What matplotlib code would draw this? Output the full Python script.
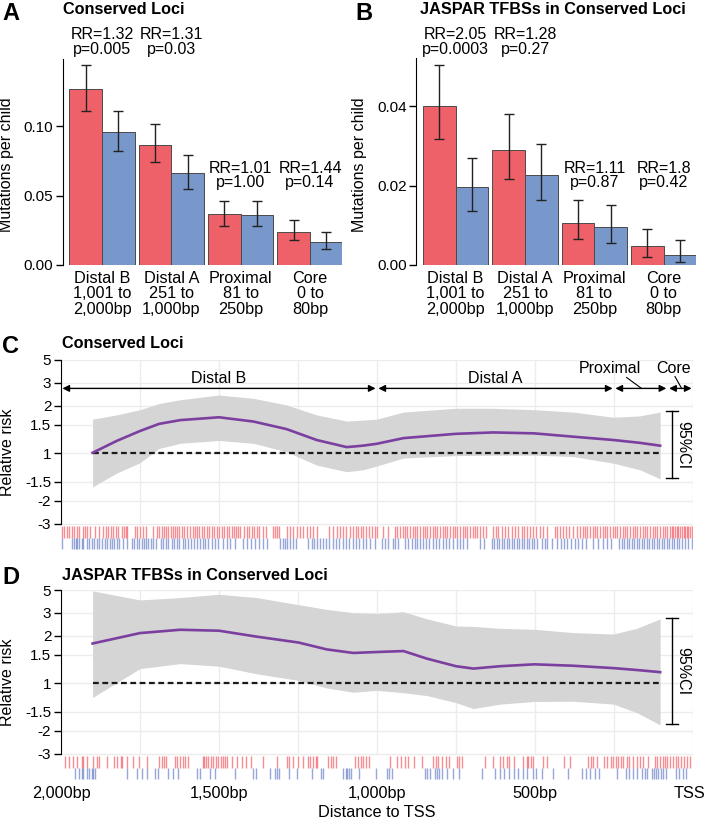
import matplotlib
matplotlib.use("Agg")
import matplotlib.pyplot as plt

plt.rcParams['font.family'] = ['Liberation Sans', 'DejaVu Sans']

# ---- panels A / B : mutations per child ----
categories = ['Distal B\n1,001 to\n2,000bp', 'Distal A\n251 to\n1,000bp',
              'Proximal\n81 to\n250bp', 'Core\n0 to\n80bp']

red_a = [0.1266, 0.0866, 0.0365, 0.0240]
red_a_lo = [0.1110, 0.0739, 0.0283, 0.0177]
red_a_hi = [0.1439, 0.1012, 0.0463, 0.0321]
blue_a = [0.0954, 0.0659, 0.0360, 0.0163]
blue_a_lo = [0.0823, 0.0549, 0.0278, 0.0113]
blue_a_hi = [0.1108, 0.0789, 0.0458, 0.0235]
rr_a = ['RR=1.32\np=0.005', 'RR=1.31\np=0.03', 'RR=1.01\np=1.00', 'RR=1.44\np=0.14']

red_b = [0.0401, 0.0290, 0.0105, 0.0047]
red_b_lo = [0.0316, 0.0217, 0.0065, 0.0021]
red_b_hi = [0.0503, 0.0379, 0.0163, 0.0090]
blue_b = [0.0195, 0.0227, 0.0095, 0.0025]
blue_b_lo = [0.0137, 0.0164, 0.0056, 0.0008]
blue_b_hi = [0.0270, 0.0305, 0.0150, 0.0062]
rr_b = ['RR=2.05\np=0.0003', 'RR=1.28\np=0.27', 'RR=1.11\np=0.87', 'RR=1.8\np=0.42']

# ---- panels C / D : relative risk along distance to TSS (log2 RR units) ----
rr_ticks = [1.97, 1.49, 1.0, 0.6, 0.0, -0.6, -1.0, -1.49]
rr_ticklabels = ['5', '3', '2', '1.5', '1', '-1.5', '-2', '-3']
dist_ticks = [2000, 1500, 1000, 500, 10]
dist_labels = ['2,000bp', '1,500bp', '1,000bp', '500bp', 'TSS']

c_bp = [1900, 1824, 1750, 1690, 1623, 1500, 1391, 1286, 1191, 1096, 1045, 1001, 916, 751, 632, 502, 379, 252, 168, 104]
c_rr = [0.01, 0.26, 0.47, 0.62, 0.70, 0.76, 0.67, 0.51, 0.28, 0.13, 0.16, 0.20, 0.32, 0.41, 0.44, 0.42, 0.35, 0.28, 0.22, 0.16]
c_hi = [0.72, 0.81, 0.92, 1.05, 1.13, 1.23, 1.16, 1.02, 0.81, 0.68, 0.70, 0.72, 0.87, 0.95, 0.95, 0.92, 0.87, 0.76, 0.79, 0.87]
c_lo = [-0.71, -0.42, -0.20, 0.10, 0.21, 0.27, 0.21, 0.03, -0.25, -0.39, -0.35, -0.27, -0.10, -0.05, -0.04, -0.04, -0.07, -0.21, -0.35, -0.54]

d_bp = [1900, 1750, 1623, 1500, 1381, 1248, 1159, 1075, 1001, 916, 842, 750, 695, 610, 502, 379, 252, 178, 104]
d_rr = [0.84, 1.06, 1.13, 1.11, 0.985, 0.86, 0.715, 0.64, 0.66, 0.68, 0.52, 0.36, 0.31, 0.36, 0.40, 0.37, 0.32, 0.28, 0.235]
d_hi = [1.95, 1.76, 1.81, 1.88, 1.81, 1.66, 1.56, 1.49, 1.47, 1.51, 1.36, 1.21, 1.20, 1.16, 1.14, 1.07, 1.04, 1.16, 1.36]
d_lo = [-0.30, 0.31, 0.415, 0.36, 0.20, 0.06, -0.10, -0.19, -0.15, -0.20, -0.26, -0.41, -0.535, -0.44, -0.385, -0.38, -0.44, -0.62, -0.88]

c_red_rug = [1998, 1990, 1982, 1974, 1966, 1959, 1950, 1942, 1931, 1924, 1919, 1908, 1892, 1879, 1866, 1858, 1850,
             1843, 1834, 1826, 1819, 1808, 1801, 1794, 1790, 1766, 1758, 1750, 1742, 1731, 1708, 1695, 1689, 1681,
             1674, 1668, 1660, 1653, 1647, 1639, 1632, 1626, 1618, 1611, 1602, 1592, 1583, 1576, 1569, 1562, 1555,
             1547, 1539, 1531, 1523, 1516, 1507, 1499, 1492, 1484, 1476, 1467, 1460, 1453, 1446, 1439, 1432, 1421,
             1412, 1404, 1397, 1389, 1381, 1372, 1360, 1351, 1328, 1323, 1315, 1309, 1286, 1275, 1265, 1254, 1244,
             1233, 1223, 1212, 1201, 1191, 1151, 1140, 1128, 1117, 1107, 1098, 1085, 1075, 1066, 1059, 1052, 1043,
             1035, 1024, 1017, 1006, 999, 980, 964, 943, 936, 927, 919, 911, 904, 896, 887, 880, 872, 864, 855, 848,
             841, 832, 824, 816, 809, 801, 792, 785, 777, 769, 761, 753, 746, 737, 729, 722, 714, 706, 697, 690, 683,
             674, 666, 655, 632, 623, 616, 605, 595, 584, 574, 563, 553, 542, 535, 526, 516, 507, 497, 484, 476, 463,
             437, 429, 421, 410, 402, 391, 379, 368, 358, 349, 342, 334, 326, 317, 310, 303, 294, 286, 278, 271, 263,
             254, 247, 239, 231, 223, 215, 208, 199, 191, 183, 176, 168, 159, 152, 144, 136, 128, 120, 113, 104, 96,
             89, 81, 73, 67, 62, 57, 52, 46, 41, 36, 30, 25, 20, 15, 10, 4]
c_blue_rug = [1998, 1966, 1959, 1953, 1948, 1942, 1935, 1929, 1919, 1910, 1903, 1896, 1887, 1879, 1871, 1861, 1853,
              1845, 1840, 1832, 1824, 1815, 1803, 1790, 1776, 1769, 1761, 1752, 1745, 1737, 1731, 1724, 1716, 1708,
              1699, 1685, 1676, 1668, 1660, 1650, 1642, 1634, 1626, 1615, 1608, 1597, 1590, 1579, 1569, 1560, 1552,
              1544, 1534, 1523, 1513, 1502, 1488, 1476, 1465, 1449, 1423, 1412, 1400, 1386, 1372, 1362, 1349, 1307,
              1299, 1291, 1284, 1275, 1267, 1256, 1217, 1207, 1199, 1191, 1180, 1172, 1161, 1151, 1140, 1130, 1119,
              1109, 1098, 1088, 1077, 1066, 1056, 1045, 1035, 1022, 1006, 985, 975, 964, 950, 943, 932, 911, 901, 890,
              880, 872, 864, 855, 845, 834, 824, 813, 803, 792, 782, 771, 758, 748, 737, 727, 716, 674, 661, 637, 630,
              621, 613, 605, 598, 590, 581, 574, 566, 558, 550, 542, 535, 526, 518, 511, 503, 495, 479, 468, 461, 447,
              431, 419, 408, 398, 387, 373, 363, 352, 339, 315, 300, 286, 273, 261, 233, 226, 218, 210, 201, 194, 187,
              178, 170, 162, 155, 147, 138, 131, 123, 115, 107, 99, 92, 83, 75, 68, 60, 52, 43, 36, 25, 15, 4]
d_red_rug = [1987, 1974, 1961, 1948, 1935, 1929, 1919, 1898, 1887, 1879, 1856, 1832, 1822, 1811, 1808, 1792, 1771,
             1753, 1727, 1690, 1681, 1674, 1668, 1639, 1634, 1624, 1615, 1608, 1599, 1552, 1548, 1541, 1534, 1526,
             1518, 1510, 1502, 1495, 1488, 1481, 1474, 1460, 1444, 1428, 1413, 1400, 1362, 1318, 1286, 1277, 1265,
             1249, 1233, 1219, 1212, 1204, 1193, 1189, 1154, 1147, 1138, 1130, 1070, 1059, 1052, 1043, 1035, 1024,
             959, 936, 925, 911, 901, 883, 859, 822, 813, 806, 795, 782, 771, 748, 739, 732, 658, 634, 611, 602, 590,
             581, 566, 537, 526, 521, 514, 505, 476, 463, 408, 389, 331, 324, 315, 305, 282, 273, 261, 252, 244, 236,
             229, 220, 210, 201, 191, 178, 168, 157, 141, 120, 113, 104, 96, 89, 81, 73, 62, 54, 46, 39, 28, 20, 9]
d_blue_rug = [1956, 1942, 1935, 1929, 1919, 1910, 1903, 1898, 1892, 1792, 1761, 1745, 1729, 1703, 1692, 1660, 1645,
              1629, 1571, 1560, 1529, 1513, 1449, 1391, 1383, 1339, 1323, 1315, 1309, 1277, 1254, 1207, 1178, 1172,
              1107, 1098, 1094, 1088, 1083, 1056, 1003, 967, 961, 954, 848, 841, 832, 816, 811, 803, 795, 777, 761,
              739, 669, 627, 611, 598, 581, 566, 553, 537, 524, 505, 497, 479, 442, 395, 352, 339, 326, 310, 296, 242,
              212, 201, 191, 176, 162, 152, 147, 131, 123, 117, 110, 102, 94, 85, 54, 43, 33, 22]

regions = [('Distal B', 2000, 1000), ('Distal A', 1000, 250), ('Proximal', 250, 80), ('Core', 80, 0)]

RED = '#EF6168'
BLUE = '#7897CB'
W, H = 706, 819
fig = plt.figure(figsize=(W / 100, H / 100), dpi=100)


def rect(l, t, r, b):
    return [l / W, 1 - b / H, (r - l) / W, (b - t) / H]


def bar_panel(ax, red, red_lo, red_hi, blue, blue_lo, blue_hi, rr, rr_y, ymax, yticks):
    x = list(range(len(categories)))
    xr = [i - 0.235 for i in x]
    xb = [i + 0.235 for i in x]
    ax.bar(xr, red, 0.47, color=RED, edgecolor='#4a4a4a', linewidth=0.7)
    ax.bar(xb, blue, 0.47, color=BLUE, edgecolor='#4a4a4a', linewidth=0.7)
    ax.errorbar(xr, red, yerr=[[r - l for r, l in zip(red, red_lo)], [h - r for r, h in zip(red, red_hi)]],
                fmt='none', ecolor='#222222', elinewidth=1, capsize=3.5)
    ax.errorbar(xb, blue, yerr=[[b - l for b, l in zip(blue, blue_lo)], [h - b for b, h in zip(blue, blue_hi)]],
                fmt='none', ecolor='#222222', elinewidth=1, capsize=3.5)
    for i, (t, yy) in enumerate(zip(rr, rr_y)):
        ax.text(i, yy, t, ha='center', va='center', fontsize=11.5, linespacing=0.95, clip_on=False)
    ax.set_xlim(-0.567, 3.46)
    ax.set_ylim(0, ymax)
    ax.set_yticks(yticks)
    ax.set_yticklabels(['%.2f' % v for v in yticks], fontsize=11)
    ax.set_xticks(x)
    ax.set_xticklabels(categories, fontsize=11.7, linespacing=1.05)
    ax.tick_params(axis='x', length=0, pad=4)
    ax.tick_params(axis='y', length=5, width=1, pad=2)
    for s in ['top', 'right', 'bottom']:
        ax.spines[s].set_visible(False)
    ax.spines['left'].set_bounds(0, ymax)
    ax.set_ylabel('Mutations per child', fontsize=11.5)
    ax.yaxis.set_label_coords(-0.175, 0.484)


axA = fig.add_axes(rect(62.7, 58.5, 342, 265))
bar_panel(axA, red_a, red_a_lo, red_a_hi, blue_a, blue_a_lo, blue_a_hi, rr_a,
          [0.1606, 0.1606, 0.0642, 0.0642], 0.1486, [0.0, 0.05, 0.10])
axB = fig.add_axes(rect(416.3, 58.3, 695.7, 265))
bar_panel(axB, red_b, red_b_lo, red_b_hi, blue_b, blue_b_lo, blue_b_hi, rr_b,
          [0.0561, 0.0561, 0.0225, 0.0225], 0.052, [0.0, 0.02, 0.04])


def rr_panel(ax, bp, rr, lo, hi, red_rug, blue_rug, show_x):
    ax.set_xlim(2000, 0)
    ax.set_ylim(-2.05, 1.97)
    for t in rr_ticks:
        ax.plot([2000, 0], [t, t], color='#ececec', lw=1, zorder=0)
    for v in range(0, 2001, 250):
        ax.plot([v, v], [-1.49, 1.97], color='#ececec', lw=1, zorder=0)
    ax.fill_between(bp, lo, hi, color='#d5d5d5', lw=0, zorder=1)
    ax.plot([bp[0], bp[-1]], [0, 0], color='#1a1a1a', lw=1.6, ls=(0, (2.6, 1.6)), zorder=2)
    ax.plot(bp, rr, color='#7B3FA0', lw=1.9, zorder=3)
    ax.vlines(red_rug, -1.53, -1.78, color='#F0303A', lw=1, alpha=0.55)
    ax.vlines(blue_rug, -1.80, -2.03, color='#3050B0', lw=1, alpha=0.5)
    # 95% CI key
    top, bot = hi[-1] + 0.02, lo[-1] + 0.01
    ax.plot([65, 65], [bot, top], color='k', lw=1)
    ax.plot([84, 46], [top, top], color='k', lw=1)
    ax.plot([84, 46], [bot, bot], color='k', lw=1)
    ax.text(33, (top + bot) / 2, '95%CI', rotation=-90, ha='center', va='center', fontsize=11.5)
    ax.set_yticks(rr_ticks)
    ax.set_yticklabels(rr_ticklabels, fontsize=11)
    ax.tick_params(axis='y', length=5, width=1, pad=2)
    for s in ['top', 'right', 'bottom']:
        ax.spines[s].set_visible(False)
    ax.spines['left'].set_bounds(-1.49, 1.97)
    ax.set_ylabel('Relative risk', fontsize=11.5)
    ax.yaxis.set_label_coords(-0.073, 0.513)
    ax.set_xticks([])
    if show_x:
        for v, lab in zip(dist_ticks, dist_labels):
            ax.text(v, -0.03, lab, transform=ax.get_xaxis_transform(), ha='center', va='top',
                    fontsize=11.7, clip_on=False)
        ax.text(1000, -0.128, 'Distance to TSS', transform=ax.get_xaxis_transform(), ha='center', va='top',
                fontsize=11.7, clip_on=False)


axC = fig.add_axes(rect(61, 360, 693, 550.3))
rr_panel(axC, c_bp, c_rr, c_lo, c_hi, c_red_rug, c_blue_rug, False)
for name, start, end in regions:
    axC.annotate('', xy=(end, 1.37), xytext=(start, 1.37),
                 arrowprops=dict(arrowstyle='<|-|>', color='k', lw=1, shrinkA=1, shrinkB=1, mutation_scale=10))
axC.text(1500, 1.57, 'Distal B', ha='center', va='center', fontsize=11.5)
axC.text(625, 1.57, 'Distal A', ha='center', va='center', fontsize=11.5)
axC.text(263, 1.78, 'Proximal', ha='center', va='center', fontsize=11.5)
axC.text(63, 1.78, 'Core', ha='center', va='center', fontsize=11.5, clip_on=False)
axC.plot([210, 163], [1.6, 1.37], color='k', lw=0.8)
axC.plot([57, 36], [1.62, 1.37], color='k', lw=0.8)

axD = fig.add_axes(rect(61, 590, 693, 780.3))
rr_panel(axD, d_bp, d_rr, d_lo, d_hi, d_red_rug, d_blue_rug, True)

# panel letters and titles
for letter, lx, tx, ty, title in [('A', 2, 62.7, 10, 'Conserved Loci'),
                                  ('B', 355, 419.5, 10, 'JASPAR TFBSs in Conserved Loci'),
                                  ('C', 2, 61.7, 343, 'Conserved Loci'),
                                  ('D', 2, 61.7, 575, 'JASPAR TFBSs in Conserved Loci')]:
    fig.text(lx / W, 1 - (ty + 3) / H, letter, fontsize=17, fontweight='bold', ha='left', va='center')
    fig.text(tx / W, 1 - ty / H, title, fontsize=11.7, fontweight='bold', ha='left', va='center')

fig.savefig('out.png', dpi=100)
